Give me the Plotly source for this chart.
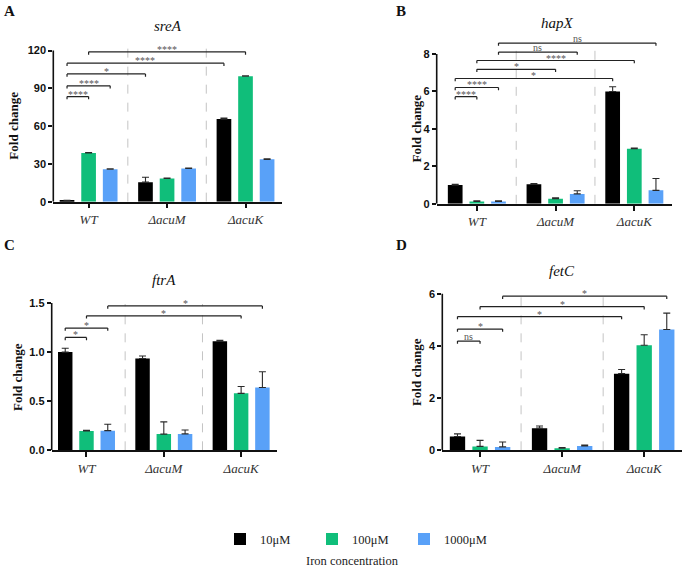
import plotly.graph_objects as go

W, H = 685, 570

categories = ["WT", "ΔacuM", "ΔacuK"]
conc_labels = ["10μM", "100μM", "1000μM"]
bar_colors = ["#000000", "#10BE7A", "#59A1F8"]

# ---- sreA ----
sreA_10 = [0.8, 15.5, 65.6]
sreA_100 = [38.6, 18.5, 99.6]
sreA_1000 = [25.8, 26.3, 33.6]
sreA_err_10 = [0.2, 3.9, 0.8]
sreA_err_100 = [0.4, 0.2, 0.3]
sreA_err_1000 = [0.3, 0.5, 0.4]
sreA_ticks = [0, 30, 60, 90, 120]
sreA_sig_left = [0, 0, 0, 0, 1]
sreA_sig_right = [1, 2, 3, 6, 7]
sreA_sig_y = [83.5, 92, 101.5, 110, 119]
sreA_sig_label = ["****", "****", "*", "****", "****"]

# ---- hapX ----
hapX_10 = [1.0, 1.04, 6.0]
hapX_100 = [0.13, 0.27, 2.94]
hapX_1000 = [0.13, 0.53, 0.72]
hapX_err_10 = [0.04, 0.04, 0.25]
hapX_err_100 = [0.03, 0.05, 0.04]
hapX_err_1000 = [0.03, 0.17, 0.63]
hapX_ticks = [0, 2, 4, 6, 8]
hapX_sig_left = [0, 0, 0, 1, 1, 2, 2]
hapX_sig_right = [1, 2, 6, 4, 7, 5, 8]
hapX_sig_y = [5.72, 6.21, 6.69, 7.18, 7.65, 8.1, 8.58]
hapX_sig_label = ["****", "****", "*", "*", "****", "ns", "ns"]

# ---- ftrA ----
ftrA_10 = [1.0, 0.935, 1.11]
ftrA_100 = [0.197, 0.165, 0.58]
ftrA_1000 = [0.2, 0.167, 0.64]
ftrA_err_10 = [0.04, 0.025, 0.01]
ftrA_err_100 = [0.008, 0.125, 0.07]
ftrA_err_1000 = [0.065, 0.04, 0.16]
ftrA_ticks = [0, 0.5, 1.0, 1.5]
ftrA_sig_left = [0, 0, 1, 2]
ftrA_sig_right = [1, 2, 7, 8]
ftrA_sig_y = [1.15, 1.245, 1.37, 1.47]
ftrA_sig_label = ["*", "*", "*", "*"]

# ---- fetC ----
fetC_10 = [0.53, 0.85, 2.94]
fetC_100 = [0.15, 0.08, 4.03]
fetC_1000 = [0.13, 0.17, 4.63]
fetC_err_10 = [0.1, 0.08, 0.16]
fetC_err_100 = [0.23, 0.03, 0.4]
fetC_err_1000 = [0.19, 0.03, 0.63]
fetC_ticks = [0, 2, 4, 6]
fetC_sig_left = [0, 0, 0, 1, 2]
fetC_sig_right = [1, 2, 6, 7, 8]
fetC_sig_y = [4.19, 4.65, 5.13, 5.51, 5.91]
fetC_sig_label = ["ns", "*", "*", "*", "*"]

BARGAP = 0.175
BARGROUPGAP = 0.32
STEP = (1 - BARGAP) / 3

panels = [
    dict(gene="sreA", letter="A", vals=[sreA_10, sreA_100, sreA_1000],
         errs=[sreA_err_10, sreA_err_100, sreA_err_1000], ticks=sreA_ticks, fmt="",
         sl=sreA_sig_left, sr=sreA_sig_right, sy=sreA_sig_y, st=sreA_sig_label,
         xpx=(53.3, 282), xr=(-0.45, 2.465), y0px=202.5, ytpx=49.3, ytop=126, sep_top=123.5,
         title_px=(167.5, 24), letter_px=(9.5, 9.5), ytitle_x=13.5),
    dict(gene="hapX", letter="B", vals=[hapX_10, hapX_100, hapX_1000],
         errs=[hapX_err_10, hapX_err_100, hapX_err_1000], ticks=hapX_ticks, fmt="",
         sl=hapX_sig_left, sr=hapX_sig_right, sy=hapX_sig_y, st=hapX_sig_label,
         xpx=(436.7, 671.7), xr=(-0.51, 2.475), y0px=204.7, ytpx=52.7, ytop=8.85, sep_top=8.3,
         title_px=(557, 21), letter_px=(400.5, 9), ytitle_x=416.5),
    dict(gene="ftrA", letter="C", vals=[ftrA_10, ftrA_100, ftrA_1000],
         errs=[ftrA_err_10, ftrA_err_100, ftrA_err_1000], ticks=ftrA_ticks, fmt=".1f",
         sl=ftrA_sig_left, sr=ftrA_sig_right, sy=ftrA_sig_y, st=ftrA_sig_label,
         xpx=(51.7, 276.7), xr=(-0.45, 2.46), y0px=454.7, ytpx=305.3, ytop=1.56, sep_top=1.49,
         title_px=(163.5, 282), letter_px=(9, 246.5), ytitle_x=17.3),
    dict(gene="fetC", letter="D", vals=[fetC_10, fetC_100, fetC_1000],
         errs=[fetC_err_10, fetC_err_100, fetC_err_1000], ticks=fetC_ticks, fmt="",
         sl=fetC_sig_left, sr=fetC_sig_right, sy=fetC_sig_y, st=fetC_sig_label,
         xpx=(442.3, 681.7), xr=(-0.46, 2.457), y0px=454.7, ytpx=296, ytop=6.15, sep_top=5.93,
         title_px=(562, 273), letter_px=(401, 246.5), ytitle_x=416),
]

fig = go.Figure()
shapes = []
annotations = []
layout_axes = {}

serif = "Liberation Serif, Times New Roman, serif"
sans = "Liberation Sans, Arial, sans-serif"


def bar_x(idx):
    g, c = divmod(idx, 3)
    return g + (c - 1) * STEP


for i, p in enumerate(panels):
    n = "" if i == 0 else str(i + 1)
    xa, ya = "x" + n, "y" + n
    tick_max = p["ticks"][-1]
    ppu = (p["y0px"] - p["ytpx"]) / tick_max
    top_px = p["y0px"] - p["ytop"] * ppu
    ydom = [(H - p["y0px"]) / H, (H - top_px) / H]
    xdom = [p["xpx"][0] / W, p["xpx"][1] / W]

    for c in range(3):
        fig.add_trace(go.Bar(
            x=categories, y=p["vals"][c], name=conc_labels[c],
            marker=dict(color=bar_colors[c], line=dict(width=0)),
            error_y=dict(type="data", array=p["errs"][c], arrayminus=[0, 0, 0],
                         symmetric=False, color="#2a2a2a", thickness=1.1, width=3.5),
            xaxis=xa, yaxis=ya, showlegend=(i == 0), legendgroup=conc_labels[c],
        ))

    layout_axes["xaxis" + n] = dict(
        domain=xdom, anchor=ya, type="category", range=list(p["xr"]),
        tickvals=categories, ticktext=["<i>" + c + "</i>" for c in categories],
        showline=True, linecolor="#111", linewidth=1.6, ticks="outside", ticklen=5,
        tickwidth=1.5, tickcolor="#111", showgrid=False, zeroline=False,
        tickfont=dict(family=serif, size=13, color="#333"),
    )
    layout_axes["yaxis" + n] = dict(
        domain=ydom, anchor=xa, range=[0, p["ytop"]], tickvals=p["ticks"],
        tickformat=p["fmt"], showline=False, ticks="outside", ticklen=4, tickwidth=1.5,
        tickcolor="#111", showgrid=False, zeroline=False,
        tickfont=dict(family=sans, size=11, color="#111", weight="bold"),
    )
    # y axis line up to the top tick
    shapes.append(dict(type="line", xref=xa + " domain", yref=ya, x0=0, x1=0, y0=0,
                       y1=tick_max, line=dict(color="#111", width=1.6)))
    # dashed group separators
    for sx in (0.5, 1.5):
        shapes.append(dict(type="line", xref=xa, yref=ya, x0=sx, x1=sx, y0=0, y1=p["sep_top"],
                           line=dict(color="#c4c4c4", width=1, dash="dash"), layer="below"))
    # significance brackets
    drop = 2.8 / ppu
    for l, r, yv, lab in zip(p["sl"], p["sr"], p["sy"], p["st"]):
        xl, xr_ = bar_x(l), bar_x(r)
        for (ax0, ay0, ax1, ay1) in ((xl, yv, xr_, yv), (xl, yv, xl, yv - drop), (xr_, yv, xr_, yv - drop)):
            shapes.append(dict(type="line", xref=xa, yref=ya, x0=ax0, x1=ax1, y0=ay0, y1=ay1,
                               line=dict(color="#222", width=1.2)))
        annotations.append(dict(xref=xa, yref=ya, x=(xl + xr_) / 2, y=yv, text=lab,
                                showarrow=False, yanchor="middle",
                                yshift=(5 if lab == "ns" else 2.5),
                                font=dict(family=serif, size=10, color="#555")))
    # gene title
    annotations.append(dict(xref="paper", yref="paper", x=p["title_px"][0] / W,
                            y=(H - p["title_px"][1]) / H, text="<i>" + p["gene"] + "</i>",
                            showarrow=False, xanchor="center", yanchor="middle",
                            font=dict(family=serif, size=15, color="#111")))
    # panel letter
    annotations.append(dict(xref="paper", yref="paper", x=p["letter_px"][0] / W,
                            y=(H - p["letter_px"][1]) / H, text="<b>" + p["letter"] + "</b>",
                            showarrow=False, xanchor="center", yanchor="middle",
                            font=dict(family=serif, size=15, color="#111")))
    # y-axis title
    annotations.append(dict(xref="paper", yref=ya, x=p["ytitle_x"] / W, y=tick_max / 2,
                            text="<b>Fold change</b>", textangle=-90, showarrow=False,
                            xanchor="center", yanchor="middle",
                            font=dict(family=serif, size=13, color="#111")))

annotations.append(dict(xref="paper", yref="paper", x=352 / W, y=(H - 566.5) / H,
                        text="Iron concentration", showarrow=False, xanchor="center",
                        yanchor="middle", font=dict(family=serif, size=12.5, color="#222")))

fig.update_layout(
    width=W, height=H, margin=dict(l=0, r=0, t=0, b=0),
    paper_bgcolor="white", plot_bgcolor="white",
    barmode="group", bargap=BARGAP, bargroupgap=BARGROUPGAP,
    shapes=shapes, annotations=annotations,
    legend=dict(orientation="h", x=220 / W, y=(H - 545) / H, xanchor="left", yanchor="middle",
                entrywidth=47, font=dict(family=serif, size=12.5, color="#222"),
                bgcolor="rgba(0,0,0,0)", tracegroupgap=0),
    **layout_axes,
)

fig.write_html("out.html", config={"displayModeBar": False},
               post_script="document.body.style.margin='0';document.body.style.overflow='hidden';")
